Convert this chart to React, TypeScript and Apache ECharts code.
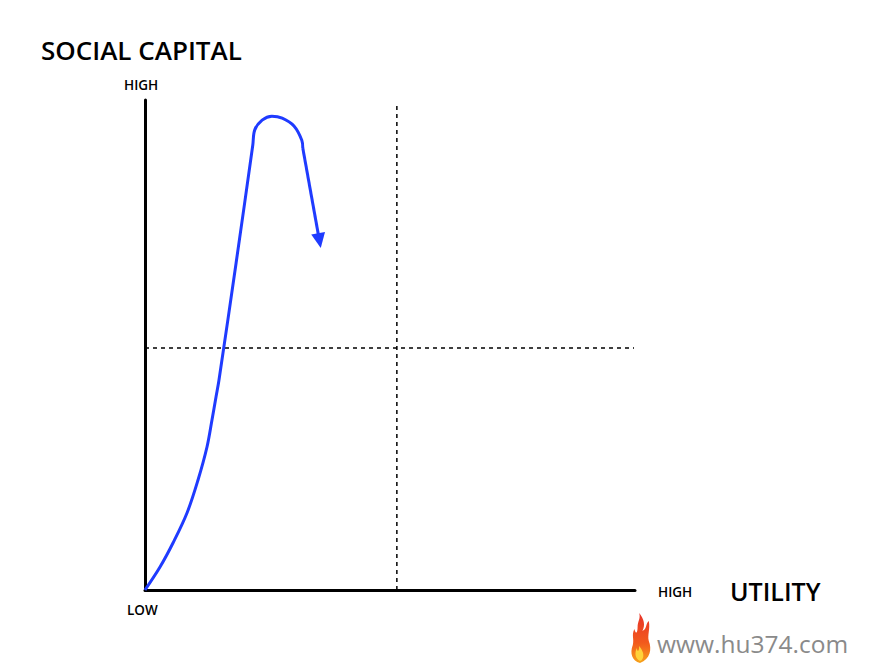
import React, { useEffect, useRef } from "react";
import * as echarts from "echarts";

const curvePoints: [number, number][] = [
  [0, 0], [3.06, 4.69], [5.71, 9.59], [8.57, 15.71], [10.82, 22.45], [12.65, 29.18],
  [13.67, 34.69], [14.49, 39.39], [15.1, 42.86], [18.6, 66.8], [22.0, 90.8],
  [22.4, 93.9], [23.9, 95.9], [25.9, 96.7], [28.0, 96.3], [30.4, 94.7], [32.0, 91.8], [32.2, 90.2],
];
const arrowStart: [number, number] = [32.2, 90.2];
const arrowEnd: [number, number] = [35.6, 71.3];
const vDivider: [number, number][] = [[51.4, 0], [51.4, 99]];
const hDivider: [number, number][] = [[0, 49.4], [99.8, 49.4]];

const yTitle = "SOCIAL CAPITAL";
const xTitle = "UTILITY";
const highLabel = "HIGH";
const lowLabel = "LOW";
const watermark = "www.hu374.com";

const flameOuter =
  "M15 50 C5 48 2 40 6 32 C8 26 4 22 8 16 C10 22 12 20 12 14 C12 8 16 6 14 0 C20 6 22 12 18 18 C24 16 22 10 26 8 C28 16 24 22 26 28 C30 36 28 46 15 50 Z";
const flameInner =
  "M15 48 C9 46 8 40 11 35 C12 40 14 38 14 33 C17 36 20 40 19 44 C18 47 16 48 15 48 Z";

echarts.graphic.registerShape("flameOuter", echarts.graphic.extendPath(flameOuter, {}) as any);
echarts.graphic.registerShape("flameInner", echarts.graphic.extendPath(flameInner, {}) as any);

export default function App() {
  const ref = useRef<HTMLDivElement>(null);
  useEffect(() => {
    if (!ref.current) return;
    const chart = echarts.init(ref.current, null, { renderer: "svg" });
    const font = '"Open Sans"';
    const txt = (x: number, y: number, text: string, f: string, fill = "#000") => ({
      type: "text", x, y,
      style: { text, font: f, fill, align: "left", verticalAlign: "middle" },
    });
    chart.setOption({
      animation: false,
      backgroundColor: "#ffffff",
      grid: { left: 145, top: 100, right: 238, bottom: 80 },
      xAxis: {
        type: "value", min: 0, max: 100,
        axisLine: { show: true, lineStyle: { color: "#000", width: 3 } },
        axisTick: { show: false }, axisLabel: { show: false }, splitLine: { show: false },
      },
      yAxis: {
        type: "value", min: 0, max: 100,
        axisLine: { show: true, lineStyle: { color: "#000", width: 3 } },
        axisTick: { show: false }, axisLabel: { show: false }, splitLine: { show: false },
      },
      series: [
        {
          type: "line", data: vDivider, symbol: "none", silent: true,
          lineStyle: { color: "#000", width: 1.5, type: [4, 4] },
        },
        {
          type: "line", data: hDivider, symbol: "none", silent: true,
          lineStyle: { color: "#000", width: 1.5, type: [4, 4] },
        },
        {
          type: "line", data: curvePoints, symbol: "none", smooth: 0.35,
          lineStyle: { color: "#1f3bff", width: 3 },
          markLine: {
            silent: true, animation: false,
            label: { show: false },
            lineStyle: { color: "#1f3bff", width: 3, type: "solid" },
            symbol: ["none", "triangle"], symbolSize: [14, 15],
            data: [[{ coord: arrowStart }, { coord: arrowEnd }]],
          },
        },
      ],
      graphic: [
        txt(41, 50, yTitle, `600 26px ${font}`),
        txt(124, 85, highLabel, `600 13.5px ${font}`),
        txt(127, 610, lowLabel, `600 13.5px ${font}`),
        txt(658, 592, highLabel, `600 13.5px ${font}`),
        txt(730, 591, xTitle, `600 25px ${font}`),
        txt(657, 643, watermark, `24.5px ${font}`, "#8a8a8a"),
        {
          type: "flameOuter", x: 628, y: 613, scaleX: 0.8, scaleY: 1,
          style: {
            fill: new echarts.graphic.LinearGradient(0, 0, 0, 1, [
              { offset: 0, color: "#e8342a" },
              { offset: 0.6, color: "#f25a1c" },
              { offset: 1, color: "#f7a21b" },
            ]),
          },
        },
        { type: "flameInner", x: 628, y: 613, scaleX: 0.8, scaleY: 1, style: { fill: "#ffd23a" } },
      ],
    });
    return () => chart.dispose();
  }, []);
  return <div ref={ref} style={{ position: "fixed", left: 0, top: 0, width: 873, height: 670 }} />;
}
